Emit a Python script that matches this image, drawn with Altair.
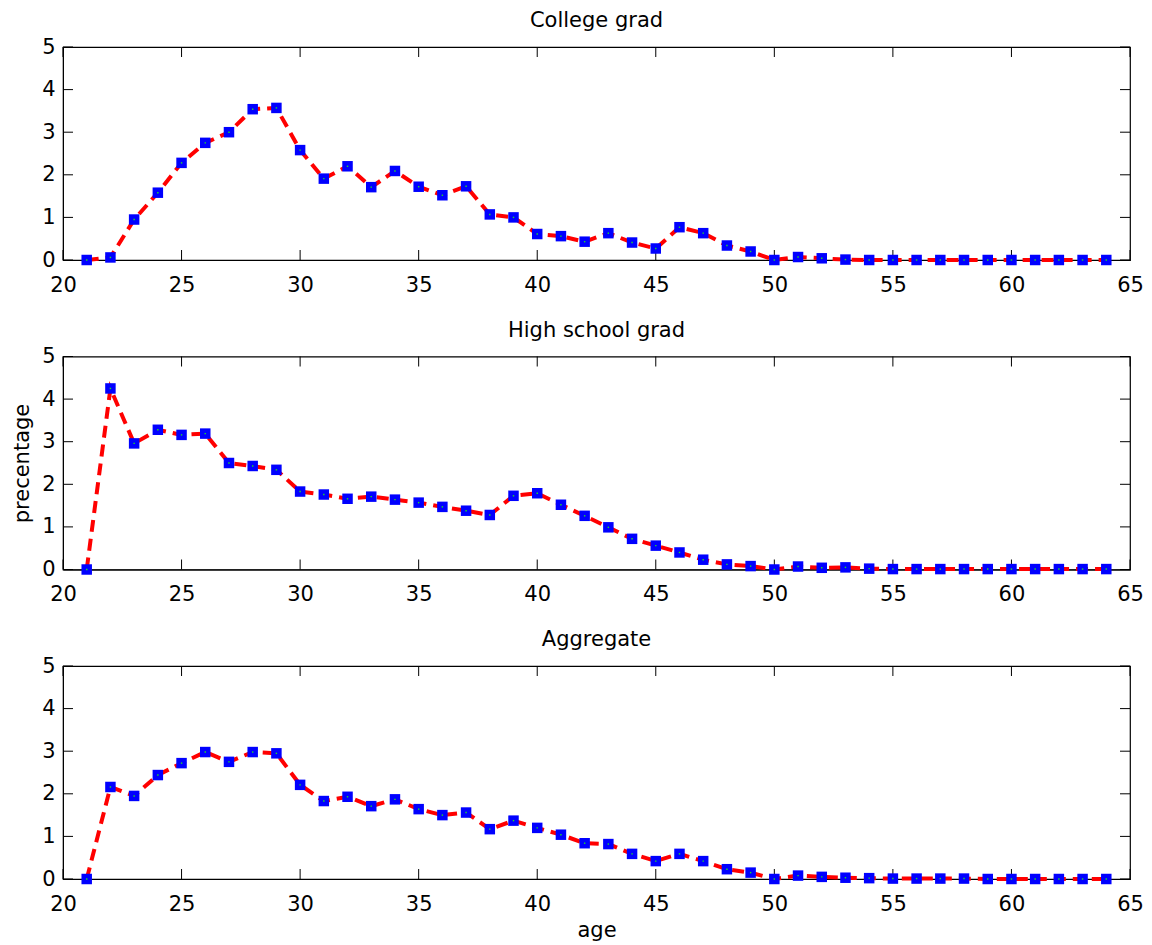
import altair as alt
import pandas as pd

ages = list(range(21, 65))

college = [0, 0.06, 0.95, 1.58, 2.28, 2.75, 3.0, 3.54, 3.57, 2.58,
           1.91, 2.2, 1.71, 2.09, 1.72, 1.52, 1.73, 1.07, 1.0, 0.61,
           0.56, 0.43, 0.63, 0.41, 0.27, 0.77, 0.63, 0.34, 0.2, 0,
           0.07, 0.04, 0.01, 0, 0, 0, 0, 0, 0, 0,
           0, 0, 0, 0]

highschool = [0, 4.25, 2.96, 3.28, 3.16, 3.19, 2.5, 2.43, 2.34, 1.83,
              1.76, 1.66, 1.71, 1.64, 1.57, 1.47, 1.38, 1.28, 1.73, 1.79,
              1.52, 1.26, 0.99, 0.72, 0.56, 0.4, 0.23, 0.12, 0.08, 0,
              0.07, 0.04, 0.05, 0.02, 0.01, 0.01, 0.01, 0.01, 0.01, 0.01,
              0.01, 0.01, 0.01, 0.01]

aggregate = [0, 2.16, 1.95, 2.44, 2.72, 2.98, 2.75, 2.98, 2.95, 2.21,
             1.83, 1.93, 1.71, 1.87, 1.64, 1.5, 1.56, 1.17, 1.37, 1.2,
             1.04, 0.84, 0.82, 0.59, 0.42, 0.59, 0.42, 0.23, 0.15, 0,
             0.08, 0.05, 0.03, 0.02, 0.01, 0.01, 0.01, 0.01, 0, 0,
             0, 0, 0, 0]

titles = ["College grad", "High school grad", "Aggregate"]
x_ticks = [20, 25, 30, 35, 40, 45, 50, 55, 60, 65]
y_ticks = [0, 1, 2, 3, 4, 5]

W = 1067
H = 213
FONT = "DejaVu Sans"
FS = 21
TICK = 10

xt = pd.DataFrame({"age": x_ticks})
yt = pd.DataFrame({"val": y_ticks})

xscale = alt.Scale(domain=[20, 65], nice=False, zero=False)
yscale = alt.Scale(domain=[0, 5], nice=False, zero=False)


def panel(values, title, ytitle=None, xtitle=None):
    df = pd.DataFrame({"age": ages, "val": values})
    xaxis_kw = dict(values=x_ticks, labelFontSize=FS, labelFont=FONT, labelColor="black",
                    ticks=False, tickSize=0, grid=False, domainColor="black",
                    labelPadding=14, labelFlush=False, labelOverlap=False, format="d")
    if xtitle:
        xaxis_kw.update(title=xtitle, titleFont=FONT, titleFontSize=FS, titleFontWeight="normal",
                        titleColor="black", titleX=W / 2, titleY=57, titleBaseline="alphabetic",
                        titleAlign="center")
    else:
        xaxis_kw.update(title=None)
    yaxis_kw = dict(values=y_ticks, labelFontSize=FS, labelFont=FONT, labelColor="black",
                    ticks=False, tickSize=0, grid=False, domainColor="black",
                    labelPadding=8, labelFlush=False, labelOverlap=False, format="d")
    if ytitle:
        yaxis_kw.update(title=ytitle, titleFont=FONT, titleFontSize=FS, titleFontWeight="normal",
                        titleColor="black", titleX=-35, titleY=H / 2, titleBaseline="alphabetic",
                        titleAlign="center")
    else:
        yaxis_kw.update(title=None)

    X = alt.X("age:Q", scale=xscale, axis=alt.Axis(**xaxis_kw))
    Y = alt.Y("val:Q", scale=yscale, axis=alt.Axis(**yaxis_kw))

    base = alt.Chart(df)
    line = base.mark_line(color="#ff0000", strokeWidth=4, strokeDash=[12, 7]).encode(x=X, y=Y)
    pts = base.mark_square(size=110, color="#0000ff", opacity=1, filled=True).encode(x=X, y=Y)
    dots = base.mark_square(size=2, color="#22dd22", opacity=1, filled=True).encode(x=X, y=Y)
    xtop = alt.Chart(xt).mark_rule(color="black", strokeWidth=1).encode(
        x=X, y=alt.value(0), y2=alt.value(TICK))
    xbot = alt.Chart(xt).mark_rule(color="black", strokeWidth=1).encode(
        x=X, y=alt.value(H), y2=alt.value(H - TICK))
    yleft = alt.Chart(yt).mark_rule(color="black", strokeWidth=1).encode(
        y=Y, x=alt.value(0), x2=alt.value(TICK))
    yright = alt.Chart(yt).mark_rule(color="black", strokeWidth=1).encode(
        y=Y, x=alt.value(W), x2=alt.value(W - TICK))

    return alt.layer(line, xtop, xbot, yleft, yright, pts, dots).properties(
        width=W, height=H,
        title=alt.TitleParams(text=title, font=FONT, fontSize=FS, fontWeight="normal",
                              color="black", offset=-12, baseline="alphabetic", anchor="middle"),
    )


p1 = panel(college, titles[0])
p2 = panel(highschool, titles[1], ytitle="precentage")
p3 = panel(aggregate, titles[2], xtitle="age")

chart = alt.vconcat(p1, p2, p3, spacing=22.5).properties(
    padding={"left": 10, "top": 9, "right": 5, "bottom": 5},
    background="white",
).configure_view(stroke="black", strokeWidth=1.2)

chart.save("out.html", embed_options={"renderer": "svg", "actions": False})
